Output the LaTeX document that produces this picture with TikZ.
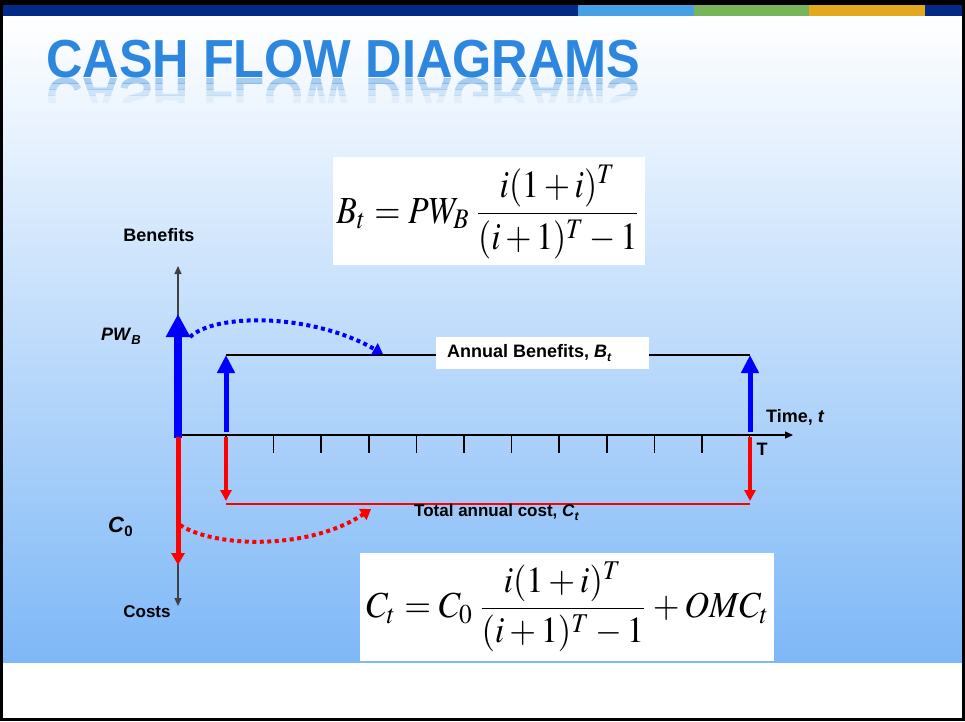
\documentclass[tikz,border=0pt]{standalone}
\usepackage{mathptmx}
\usepackage[no-math]{fontspec}
\newfontfamily\arial{Liberation Sans}
\usetikzlibrary{arrows.meta}
\definecolor{bgblue}{RGB}{126,184,247}
\definecolor{barblue}{RGB}{2,43,136}
\definecolor{barlight}{RGB}{70,160,228}
\definecolor{bargreen}{RGB}{120,180,90}
\definecolor{barorange}{RGB}{227,168,29}
\definecolor{titleblue}{RGB}{45,135,222}
\definecolor{pblue}{RGB}{0,0,255}
\definecolor{pred}{RGB}{255,0,0}
\tikzset{
  lbl/.style={font=\arial\bfseries\fontsize{18}{20}\selectfont, text=black, inner sep=0pt},
  axisline/.style={draw=black!75, line width=1.2pt},
  axtip/.style={-{Triangle[width=7pt,length=8pt]}},
  tickmark/.style={draw=black, line width=1.5pt},
  bigblue/.style={draw=pblue, line width=8pt, -{Triangle[width=23pt,length=23pt]}},
  smallblue/.style={draw=pblue, line width=5pt, -{Triangle[width=17pt,length=18pt]}},
  bigred/.style={draw=pred, line width=5pt, -{Triangle[width=13pt,length=12pt]}},
  smallred/.style={draw=pred, line width=4pt, -{Triangle[width=11pt,length=11pt]}},
  dotblue/.style={draw=pblue, line width=4pt, dash pattern=on 4pt off 3.5pt, -{Triangle[width=13pt,length=10pt]}},
  dotred/.style={draw=pred, line width=4pt, dash pattern=on 4pt off 3.5pt, -{Triangle[width=13pt,length=10pt]}},
  whitebox/.style={fill=white, draw=none, inner sep=0pt},
  titletext/.style={font=\arial\bfseries\fontsize{52}{60}\selectfont, text=titleblue, inner sep=0pt, anchor=base west}
}
\begin{document}
\begin{tikzpicture}[x=1pt,y=-1pt]
\useasboundingbox (0,0) rectangle (965,721);
% background
\fill[white] (0,0) rectangle (965,721);
\shade[top color=white, bottom color=bgblue] (3,16) rectangle (962,662);
% top bar
\fill[black] (0,0) rectangle (965,4.5);
\fill[barblue] (3,4.5) rectangle (578,16);
\fill[barlight] (578,4.5) rectangle (694,16);
\fill[bargreen] (694,4.5) rectangle (809,16);
\fill[barorange] (809,4.5) rectangle (925,16);
\fill[barblue] (925,4.5) rectangle (962,16);
\draw[line width=3pt] (1.5,1.5) rectangle (963.5,719.5);
% title and reflection
\node[titletext] (title) at (46,77) {\scalebox{0.97}[1.03]{CASH FLOW DIAGRAMS}};
\foreach \ya/\yb/\op [count=\n] in {77/83/0.38, 83/89/0.27, 89/95/0.16, 95/102/0.07}{
  \begin{scope}
    \clip (0,\ya) rectangle (965,\yb);
    \node[titletext, opacity=\op] (refl\n) at (46,78) {\scalebox{0.97}[-1.03]{CASH FLOW DIAGRAMS}};
  \end{scope}
}
% formula boxes
\node[whitebox, minimum width=312pt, minimum height=108pt] (fbox1) at (489,211) {};
\node[inner sep=0pt] (form1) at (489,212) {\resizebox*{305pt}{94pt}{$\displaystyle B_t = PW_B\,\frac{i(1+i)^T}{(i+1)^T-1}$}};
\node[whitebox, minimum width=414pt, minimum height=108pt] (fbox2) at (567,607) {};
\node[inner sep=0pt] (form2) at (568,607) {\resizebox*{403pt}{90pt}{$\displaystyle C_t = C_0\,\frac{i(1+i)^T}{(i+1)^T-1}+OMC_t$}};
% coordinates
\coordinate (O) at (178,435);
\coordinate (Oup) at (178,438);
\coordinate (ytop) at (178,266);
\coordinate (ybot) at (178,606);
\coordinate (xend) at (793,435);
\coordinate (b1top) at (226,355);
\coordinate (bTtop) at (750,355);
\coordinate (c1bot) at (226,504);
\coordinate (cTbot) at (750,504);
% axes
\draw[axisline, axtip] (Oup) -- (ytop);
\draw[axisline, axtip] (Oup) -- (ybot);
\draw[draw=black, line width=1.2pt, axtip] (O) -- (xend);
\foreach \k in {0,...,11}{
  \draw[tickmark] ({226+47.6*\k},435) -- ++(0,18);
}
% level lines
\draw[black, line width=1.5pt] (b1top) -- (bTtop);
\draw[pred, line width=1.3pt] (c1bot) -- (cTbot);
% label box on benefits line
\node[whitebox, minimum width=213pt, minimum height=32pt] (abbox) at (542.5,353) {};
\node[lbl, anchor=west] (ablabel) at (447,353) {Annual Benefits, \textit{B}\raisebox{-0.45ex}{\fontsize{12}{12}\selectfont\textit{t}}};
% arrows
\draw[bigblue] (178,438) -- (178,314);
\draw[bigred] (178,437) -- (178,565);
\draw[smallblue] (226,432) -- (b1top);
\draw[smallblue] (750,432) -- (bTtop);
\draw[smallred] (226,437) -- (226,501);
\draw[smallred] (750,437) -- (750,501);
% dotted curves
\coordinate (pwstart) at (190,337);
\coordinate (pwend) at (383,354);
\coordinate (cstart) at (180,525);
\coordinate (cend) at (371,509);
\draw[dotblue] (pwstart) .. controls (215,313) and (312,313) .. (pwend);
\draw[dotred] (cstart) .. controls (215,548) and (310,550) .. (cend);
% labels
\node[lbl] (benefits) at (159,235) {Benefits};
\node[lbl, anchor=west] (pwb) at (101,336) {\textit{PW}\raisebox{-0.45ex}{\fontsize{13}{13}\selectfont\textit{B}}};
\node[lbl, anchor=west] (c0) at (108,527) {\fontsize{22}{24}\selectfont\textit{C}\raisebox{-0.4ex}{\fontsize{15}{15}\selectfont 0}};
\node[lbl] (costs) at (147,612) {\fontsize{17}{19}\selectfont Costs};
\node[lbl, anchor=west] (time) at (766,417) {Time, \textit{t}};
\node[lbl] (tlabel) at (762,449) {T};
\node[lbl, anchor=west] (tac) at (414,512) {\fontsize{17}{19}\selectfont Total annual cost, \textit{C}\raisebox{-0.45ex}{\fontsize{12}{12}\selectfont\textit{t}}};
\end{tikzpicture}
\end{document}
